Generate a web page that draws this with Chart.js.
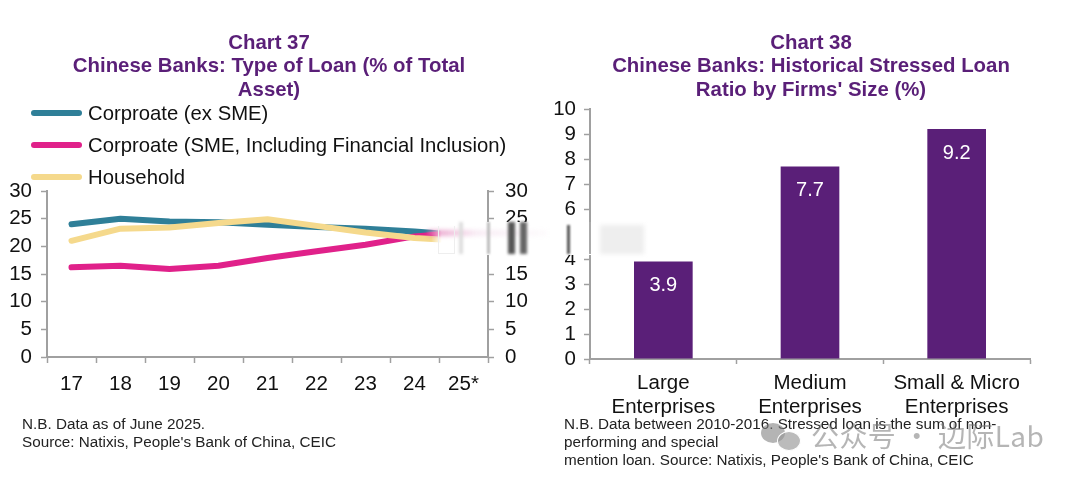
<!DOCTYPE html>
<html><head><meta charset="utf-8">
<script src="https://cdn.jsdelivr.net/npm/chart.js@4"></script>
<style>
html,body{margin:0;padding:0;background:#fff;width:1080px;height:478px;overflow:hidden;font-family:"Liberation Sans",Arial,sans-serif}
canvas{position:absolute;top:0}
.title{position:absolute;text-align:center;color:#5a1f78;font-weight:bold;font-size:20.4px;line-height:23.3px;top:31px;width:470px}
.note{position:absolute;font-size:15.25px;line-height:18px;color:#222;white-space:nowrap}
.leg{position:absolute;left:88px;font-size:20.3px;color:#111;white-space:nowrap;line-height:24px}
.ln{position:absolute;left:31px;width:51px;height:6px;border-radius:3px}
.wm{position:absolute;left:811px;top:420px;font-family:"Noto Sans CJK SC";font-size:28px;color:rgba(120,120,120,.55);white-space:nowrap;line-height:30px;letter-spacing:.4px}
</style></head><body>
<canvas id="c1" width="540" height="478" style="left:0;width:540px;height:478px"></canvas>
<canvas id="c2" width="540" height="478" style="left:540px;width:540px;height:478px"></canvas>
<div class="title" style="left:34px">Chart 37<br>Chinese Banks: Type of Loan (% of Total<br>Asset)</div>
<div class="title" style="left:576px">Chart 38<br>Chinese Banks: Historical Stressed Loan<br>Ratio by Firms' Size (%)</div>
<div id="legend"></div>
<div class="note" style="left:22px;top:415px">N.B. Data as of June 2025.<br>Source: Natixis, People's Bank of China, CEIC</div>
<div class="note" style="left:564px;top:415px">N.B. Data between 2010-2016. Stressed loan is the sum of non-<br>performing and special<br>mention loan. Source: Natixis, People's Bank of China, CEIC</div>
<div class="wm">公众号 · 边际Lab</div>
<div style="position:absolute;left:761px;top:423px;width:24px;height:20px;border-radius:50%;background:rgba(130,130,130,.6)"></div>
<div style="position:absolute;left:777px;top:431px;width:22px;height:18px;border-radius:50%;background:rgba(150,150,150,.65);border:1px solid #fff"></div>
<!-- smeared artefact in the reference image -->
<div style="position:absolute;left:431px;top:222px;width:216px;height:33px;background:linear-gradient(90deg,rgba(255,255,255,0),#fff 5%,#fff 94%,rgba(255,255,255,0))"></div>
<div style="position:absolute;left:428px;top:230px;width:120px;height:6px;background:linear-gradient(90deg,rgba(225,120,180,.75),rgba(235,200,225,.35) 40%,rgba(240,220,230,.1));filter:blur(2px)"></div>
<div style="position:absolute;left:438px;top:226px;width:17px;height:28px;border:1px solid #eee;border-top:none;box-sizing:border-box"></div>
<div style="position:absolute;left:459px;top:222px;width:4px;height:32px;background:#ddd;filter:blur(1.5px)"></div>
<div style="position:absolute;left:487px;top:222px;width:3px;height:32px;background:#bbb;filter:blur(1px)"></div>
<div style="position:absolute;left:508px;top:222px;width:7px;height:32px;background:#555;filter:blur(1.5px)"></div>
<div style="position:absolute;left:520px;top:222px;width:7px;height:32px;background:#666;filter:blur(1.5px)"></div>
<div style="position:absolute;left:567px;top:225px;width:3px;height:29px;background:#555;filter:blur(1px)"></div>
<div style="position:absolute;left:589px;top:222px;width:2px;height:32px;background:#aaa;filter:blur(.6px)"></div>
<div style="position:absolute;left:600px;top:225px;width:44px;height:29px;background:#eee;filter:blur(2px)"></div>
<script>
const years = ['17','18','19','20','21','22','23','24','25*'];
const corporate = [24.0,25.0,24.5,24.35,23.9,23.5,23.2,22.7,22.0];
const sme = [16.2,16.5,15.9,16.5,17.9,19.1,20.3,21.8,22.5];
const household = [21.0,23.2,23.4,24.2,24.9,23.7,22.5,21.5,21.0];
const legendNames = ['Corproate (ex SME)','Corproate (SME, Including Financial Inclusion)','Household'];
const lineColours = ['#2f7f98','#e0218a','#f5d98c'];
const firmSizes = [['Large','Enterprises'],['Medium','Enterprises'],['Small & Micro','Enterprises']];
const stressed = [3.9,7.7,9.2];

const axisGrey = '#a0a0a0', ink = '#111';
const font = {family:'"Liberation Sans",Arial,sans-serif', size:20.5};
const fit = (prop, v) => s => { s[prop] = v; };

legendNames.forEach((n,i)=>{
  const y = 113 + i*32;
  document.getElementById('legend').insertAdjacentHTML('beforeend',
    `<div class="ln" style="top:${y-3}px;background:${lineColours[i]}"></div><div class="leg" style="top:${y-12}px">${n}</div>`);
});

const mkLine = (label,data,i,order) => ({label,data,borderColor:lineColours[i],backgroundColor:lineColours[i],
  borderWidth:6,pointRadius:0,tension:0,order,borderCapStyle:'round',borderJoinStyle:'round'});

new Chart(document.getElementById('c1'),{
  type:'line',
  data:{labels:years,datasets:[
    mkLine(legendNames[0],corporate,0,3),
    mkLine(legendNames[1],sme,1,2),
    mkLine(legendNames[2],household,2,1)
  ]},
  options:{responsive:false,animation:false,devicePixelRatio:1,
    layout:{padding:{top:191,left:0,right:0,bottom:0}},
    plugins:{legend:{display:false},title:{display:false},tooltip:{enabled:false}},
    scales:{
      x:{offset:true,afterFit:fit('height',121),
        grid:{offset:true,drawOnChartArea:false,color:axisGrey,tickLength:6,tickWidth:1.5},
        border:{color:axisGrey,width:2},
        ticks:{color:ink,font,padding:9,maxRotation:0,autoSkip:false}},
      y:{min:0,max:30,afterFit:fit('width',47),
        grid:{drawOnChartArea:false,color:axisGrey,tickLength:6,tickWidth:1.5},
        border:{color:axisGrey,width:2},
        ticks:{stepSize:5,color:ink,font,padding:9}},
      y1:{position:'right',min:0,max:30,afterFit:fit('width',52),
        grid:{drawOnChartArea:false,color:axisGrey,tickLength:6,tickWidth:1.5},
        border:{color:axisGrey,width:2},
        ticks:{stepSize:5,color:ink,font,padding:11}}
    }}
});

const barValueLabels = {id:'barValueLabels',afterDatasetsDraw(chart){
  const ctx = chart.ctx, m = chart.getDatasetMeta(0);
  ctx.save();ctx.fillStyle='#fff';ctx.font='20px "Liberation Sans",Arial,sans-serif';
  ctx.textAlign='center';ctx.textBaseline='middle';
  m.data.forEach((el,i)=>ctx.fillText(stressed[i].toFixed(1),el.x,el.y+24));
  ctx.restore();
}};

new Chart(document.getElementById('c2'),{
  type:'bar',
  data:{labels:firmSizes,datasets:[{label:'Stressed loan ratio',data:stressed,backgroundColor:'#5a1f78',
    barPercentage:.4,categoryPercentage:1}]},
  options:{responsive:false,animation:false,devicePixelRatio:1,
    layout:{padding:{top:109,left:0,right:50,bottom:0}},
    plugins:{legend:{display:false},title:{display:false},tooltip:{enabled:false}},
    scales:{
      x:{afterFit:fit('height',119),
        grid:{drawOnChartArea:false,color:axisGrey,tickLength:5,tickWidth:1.5},
        border:{color:axisGrey,width:2},
        ticks:{color:ink,font:{...font,lineHeight:1.17},padding:7,maxRotation:0,autoSkip:false}},
      y:{min:0,max:10,afterFit:fit('width',50),
        grid:{drawOnChartArea:false,color:axisGrey,tickLength:6,tickWidth:1.5},
        border:{color:axisGrey,width:2},
        ticks:{stepSize:1,autoSkip:false,color:ink,font,padding:8}}
    }},
  plugins:[barValueLabels]
});
</script>
</body></html>
